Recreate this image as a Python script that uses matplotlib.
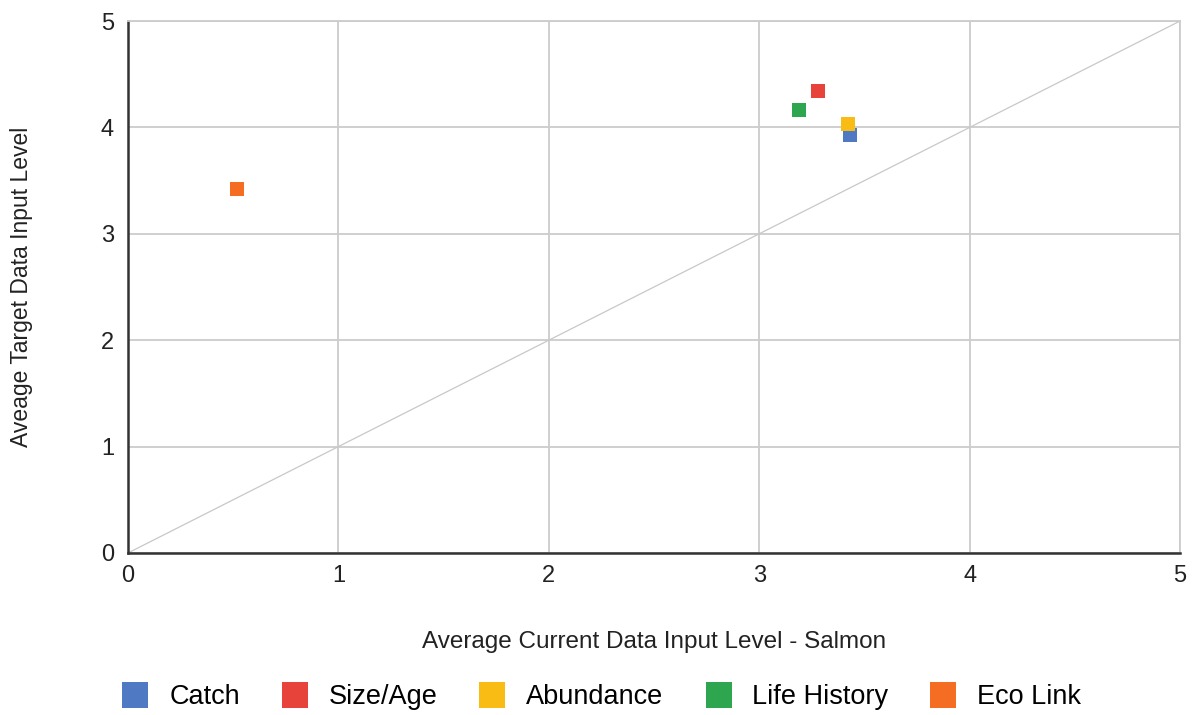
import matplotlib
matplotlib.use("Agg")
import matplotlib.pyplot as plt
from matplotlib.lines import Line2D

plt.rcParams['font.family'] = ['Liberation Sans', 'DejaVu Sans']

categories = ["Catch", "Size/Age", "Abundance", "Life History", "Eco Link"]
current_level = [3.43, 3.28, 3.42, 3.19, 0.52]
target_level = [3.93, 4.34, 4.03, 4.16, 3.42]
colors = ["#5079C4", "#E8433A", "#F9BC15", "#2EA650", "#F46D22"]

x_ticks = [0, 1, 2, 3, 4, 5]
y_ticks = [0, 1, 2, 3, 4, 5]

fig = plt.figure(figsize=(11.94, 7.15), dpi=100)
ax = fig.add_axes([0.1072, 0.2266, 0.8811, 0.744])

ax.plot([0, 5], [0, 5], color="#c8c8c8", lw=0.9, zorder=1)
for cat, x, y, c in zip(categories, current_level, target_level, colors):
    ax.scatter([x], [y], marker="s", s=110, color=c, zorder=3, linewidths=0)

ax.set_xlim(0, 5)
ax.set_ylim(0, 5)
ax.set_xticks(x_ticks)
ax.set_yticks(y_ticks)
ax.grid(True, color="#cccccc", lw=1.3)
ax.set_axisbelow(True)
for s in ["top", "right"]:
    ax.spines[s].set_color("#cccccc")
    ax.spines[s].set_linewidth(1.3)
for s in ["left", "bottom"]:
    ax.spines[s].set_color("#333333")
    ax.spines[s].set_linewidth(1.8)
ax.tick_params(length=0, labelsize=17, colors="#222222")
ax.tick_params(axis="x", pad=9)
ax.tick_params(axis="y", pad=10)
ax.set_xlabel("Average Current Data Input Level - Salmon", fontsize=17.5, color="#222222")
ax.set_ylabel("Aveage Target Data Input Level", fontsize=16.5, color="#222222")
ax.xaxis.set_label_coords(0.5004, -0.1672)
ax.xaxis.label.set_va("center")
ax.yaxis.set_label_coords(-0.1008, 0.5)
ax.yaxis.label.set_va("center")

handles = [Line2D([], [], marker="s", linestyle="none", markersize=18.7, color=c, markeredgewidth=0)
           for c in colors]
fig.legend(handles, categories, loc="center", bbox_to_anchor=(0.5038, 0.025), ncol=5,
           frameon=False, fontsize=19.5, handlelength=1.0, handletextpad=0.75,
           columnspacing=1.53, borderpad=0, borderaxespad=0)

fig.savefig("out.png", dpi=100)
